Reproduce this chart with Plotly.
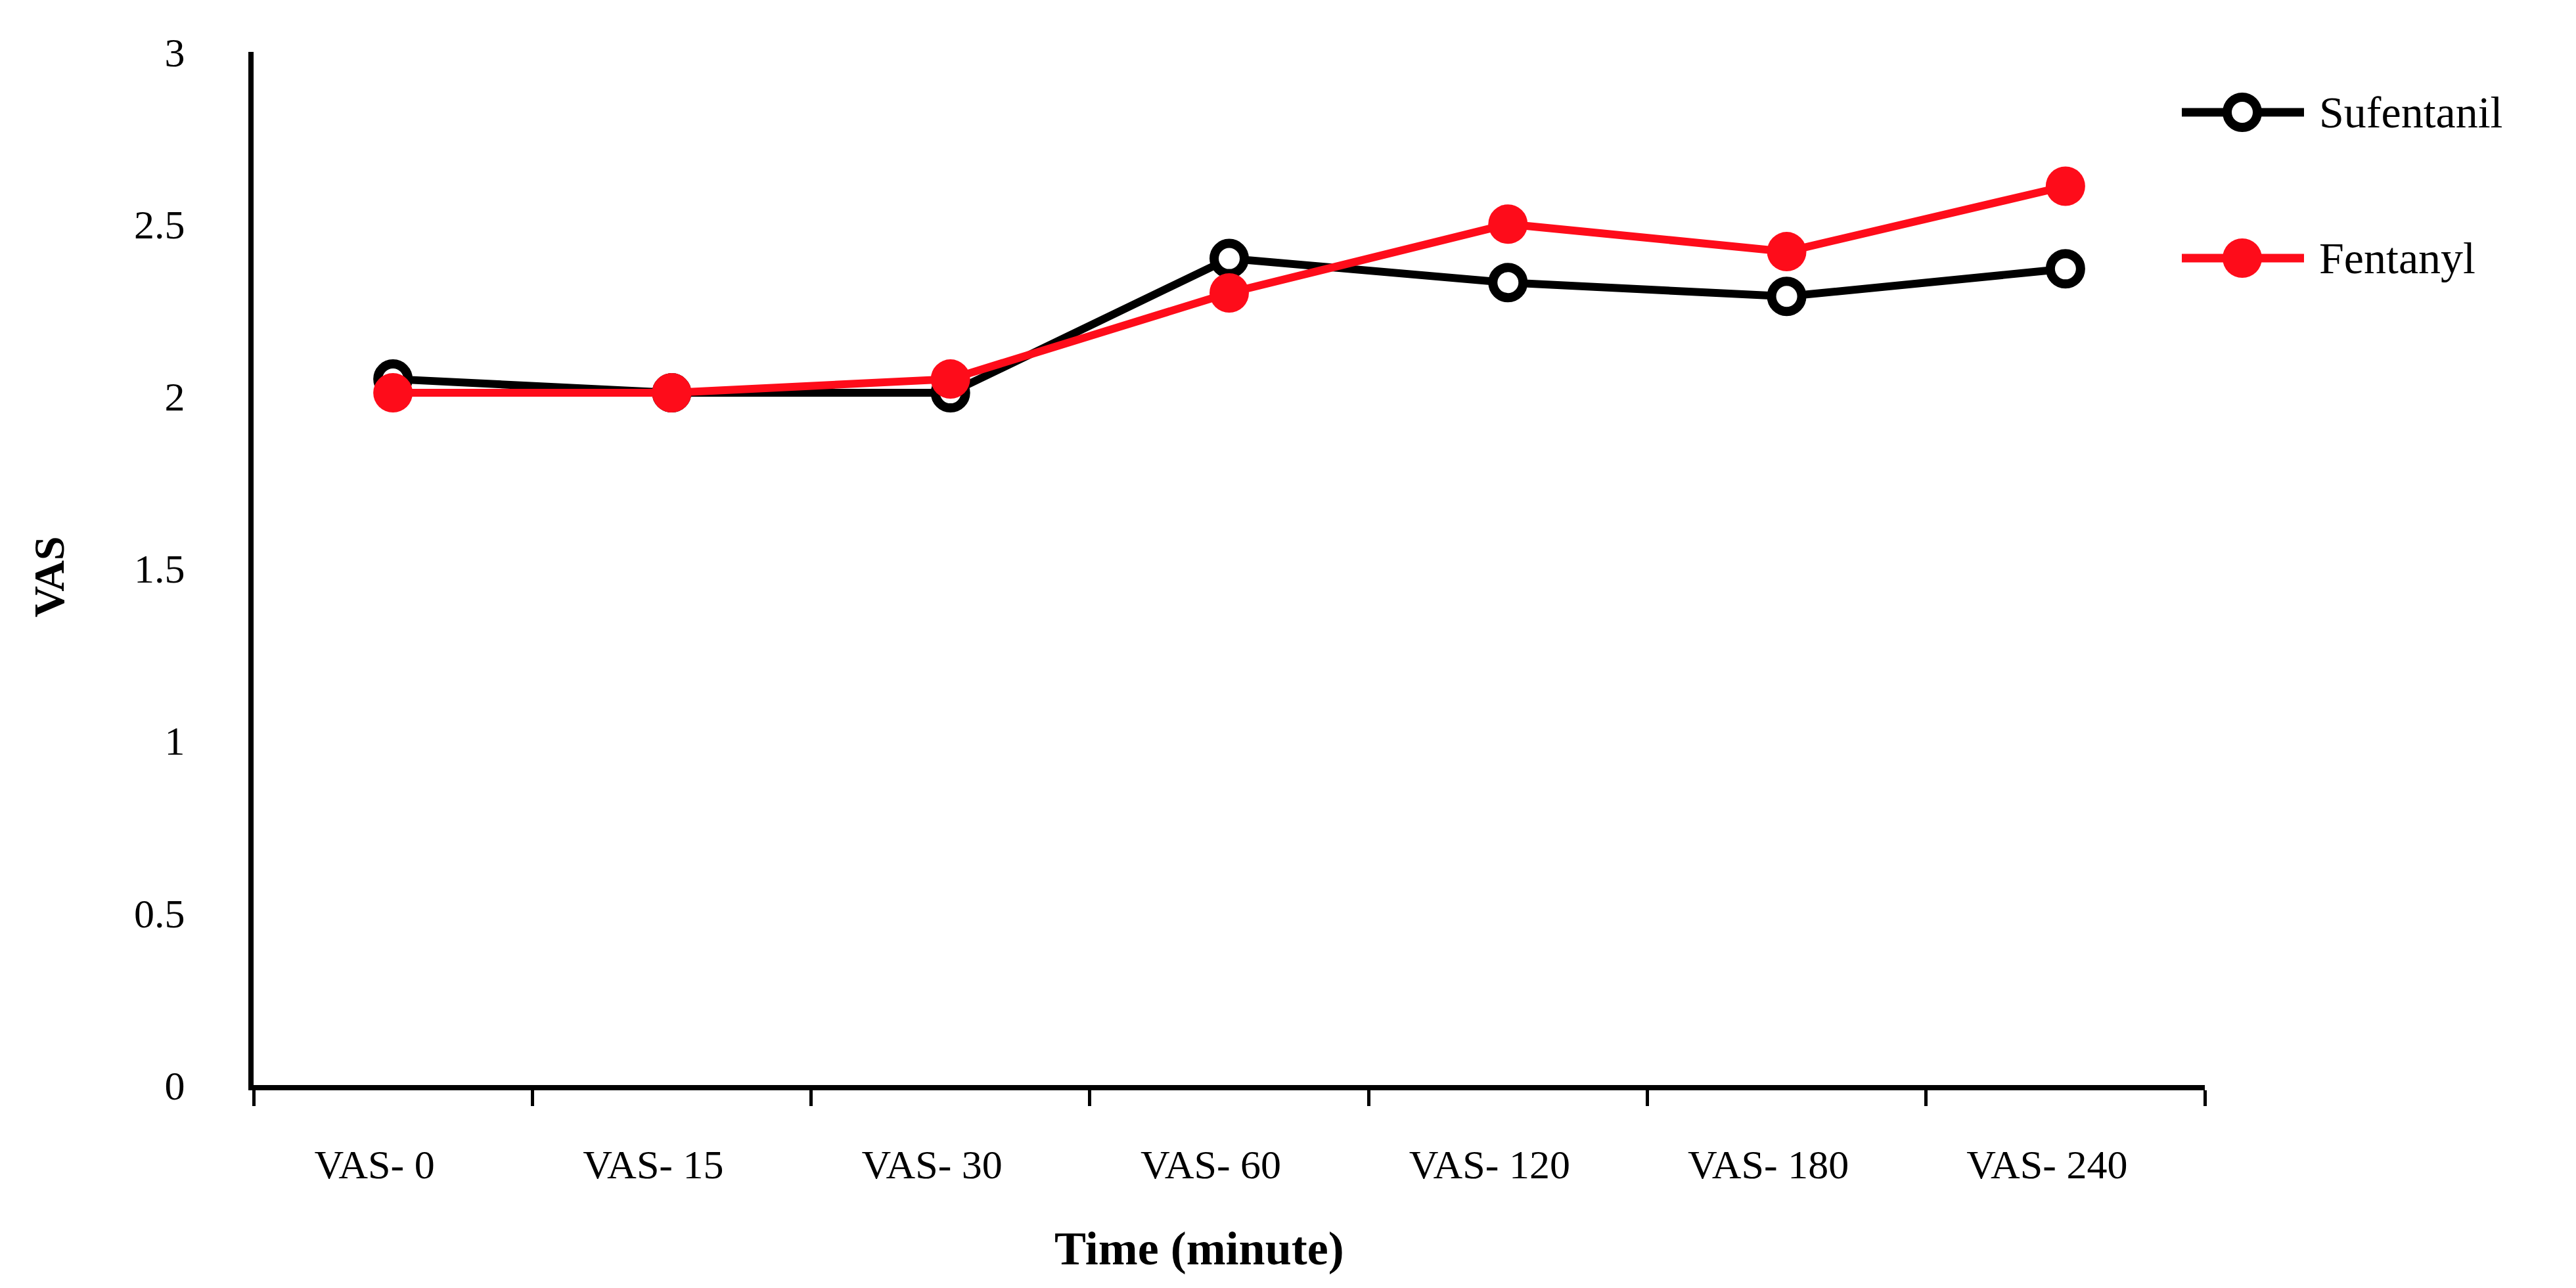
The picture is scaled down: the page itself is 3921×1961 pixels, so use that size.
import plotly.graph_objects as go

categories = ["VAS- 0", "VAS- 15", "VAS- 30", "VAS- 60", "VAS- 120", "VAS- 180", "VAS- 240"]
sufentanil = [2.05, 2.01, 2.01, 2.40, 2.33, 2.29, 2.37]
fentanyl = [2.01, 2.01, 2.05, 2.30, 2.50, 2.42, 2.61]
y_ticks = [0, 0.5, 1, 1.5, 2, 2.5, 3]
series_names = ["Sufentanil", "Fentanyl"]
x_title = "Time (minute)"
y_title = "VAS"

BLACK = "#000000"
RED = "#FE0C1A"
FONT = "Liberation Serif"

W, H = 3921, 1961
ML, MR, MT, MB = 378, 573, 71, 317
PW = W - ML - MR
PH = H - MT - MB


def px_x(p):
    return (p - ML) / PW


def px_y(p):
    return (H - MB - p) / PH


fig = go.Figure()
fig.add_trace(go.Scatter(
    x=categories, y=sufentanil, name=series_names[0], mode="lines+markers",
    line=dict(color=BLACK, width=12),
    marker=dict(symbol="circle", size=46, color="white", line=dict(color=BLACK, width=14)),
    showlegend=False,
))
fig.add_trace(go.Scatter(
    x=categories, y=fentanyl, name=series_names[1], mode="lines+markers",
    line=dict(color=RED, width=12),
    marker=dict(symbol="circle", size=60, color=RED, line=dict(width=0)),
    showlegend=False,
))

# Legend drawn as layout shapes + text
shapes = []
annotations = []
legend_rows = [(series_names[0], BLACK, "ring", 163), (series_names[1], RED, "dot", 385)]
for name, col, kind, ypx in legend_rows:
    yp = px_y(ypx)
    shapes.append(dict(type="line", xref="paper", yref="paper",
                       x0=px_x(3313), x1=px_x(3499), y0=yp, y1=yp,
                       line=dict(color=col, width=13)))
    if kind == "ring":
        shapes.append(dict(type="circle", xref="paper", yref="paper",
                           xsizemode="pixel", ysizemode="pixel",
                           xanchor=px_x(3405), yanchor=yp,
                           x0=-23, x1=23, y0=-23, y1=23,
                           fillcolor="white", line=dict(color=col, width=14)))
    else:
        shapes.append(dict(type="circle", xref="paper", yref="paper",
                           xsizemode="pixel", ysizemode="pixel",
                           xanchor=px_x(3405), yanchor=yp,
                           x0=-30, x1=30, y0=-30, y1=30,
                           fillcolor=col, line=dict(color=col, width=0)))
    annotations.append(dict(text=name, xref="paper", yref="paper",
                            x=px_x(3520), y=yp, xanchor="left", yanchor="middle",
                            showarrow=False, font=dict(family=FONT, size=68, color=BLACK)))

# Axis titles
annotations.append(dict(text="<b>%s</b>" % x_title, xref="paper", yref="paper",
                        x=px_x(1817), y=px_y(1893), xanchor="center", yanchor="middle",
                        showarrow=False, font=dict(family=FONT, size=72, color=BLACK)))
annotations.append(dict(text="<b>%s</b>" % y_title, xref="paper", yref="paper",
                        x=px_x(67), y=px_y(870), xanchor="center", yanchor="middle",
                        textangle=-90,
                        showarrow=False, font=dict(family=FONT, size=66, color=BLACK)))

fig.update_layout(
    width=W, height=H,
    margin=dict(l=ML, r=MR, t=MT, b=MB, autoexpand=False),
    paper_bgcolor="white", plot_bgcolor="white",
    shapes=shapes, annotations=annotations,
    font=dict(family=FONT, size=62, color=BLACK),
    xaxis=dict(
        type="category", range=[-0.5, 6.5],
        showline=True, linecolor=BLACK, linewidth=8,
        ticks="outside", tickson="boundaries", ticklen=24, tickwidth=5, tickcolor=BLACK,
        showgrid=False, zeroline=False,
        tickfont=dict(family=FONT, size=62, color=BLACK),
        ticklabelstandoff=60, ticklabelshift=-28,
        automargin=False,
    ),
    yaxis=dict(
        range=[0, 3], tickvals=y_ticks, ticktext=[str(v) if v != int(v) else str(int(v)) for v in y_ticks],
        showline=True, linecolor=BLACK, linewidth=8,
        ticks="", showgrid=False, zeroline=False,
        tickfont=dict(family=FONT, size=62, color=BLACK),
        ticklabelstandoff=84,
        automargin=False,
    ),
)

fig.write_html("out.html")
